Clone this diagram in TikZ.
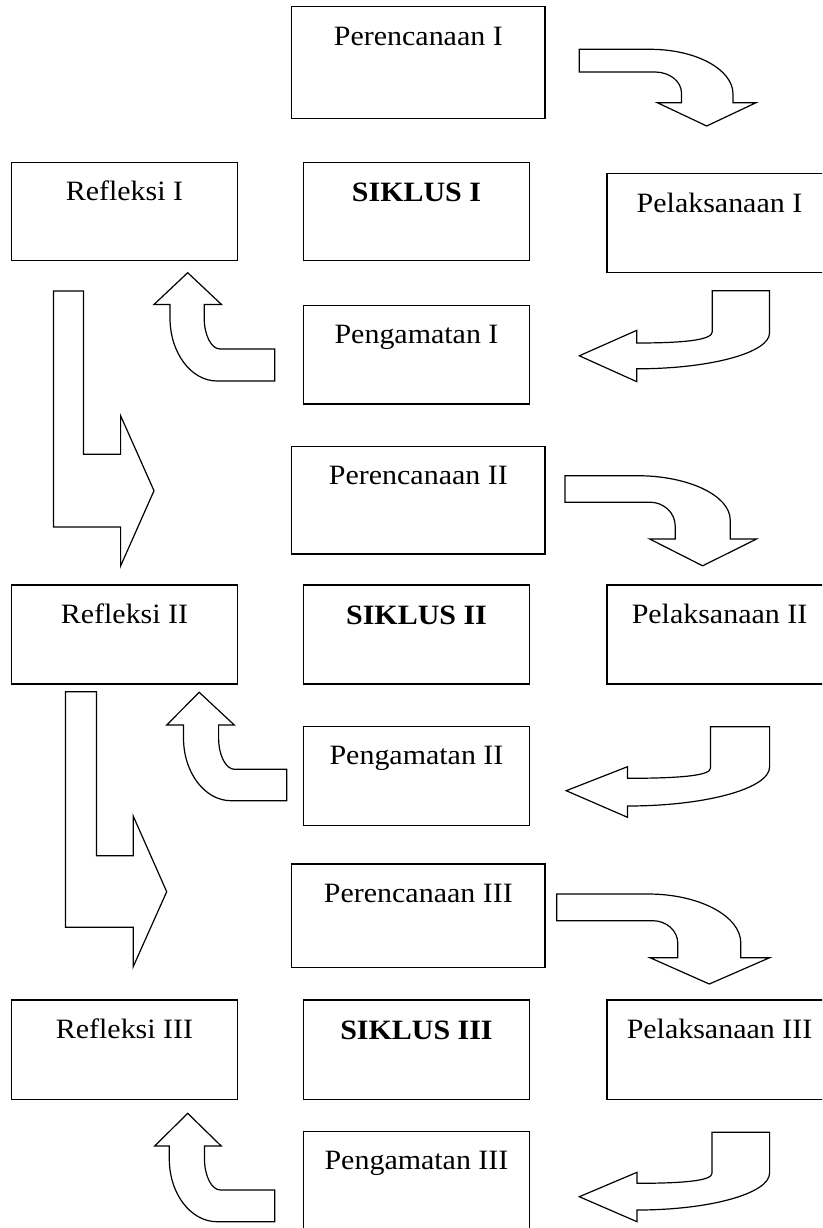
\documentclass[tikz,border=0pt]{standalone}
\usepackage{fontspec}
\setmainfont{Liberation Serif}[FakeStretch=1.07]
\begin{document}
\begin{tikzpicture}[x=1pt,y=-1pt,
  box/.style={draw=black,line width=1.5pt,rectangle,inner sep=0pt,outer sep=0pt,fill=white},
  wbox/.style={box,minimum width=226pt,minimum height=99pt},
  pbox/.style={box,minimum width=253.7pt},
  lbl/.style={anchor=base,inner sep=0pt,font=\fontsize{28}{32}\selectfont},
  blbl/.style={lbl,font=\fontsize{28}{32}\selectfont\bfseries},
  blk/.style={draw=black,line width=1.2pt,line join=miter,fill=white}]
\clip (0,0) rectangle (822,1228);
\fill[white] (0,0) rectangle (822,1228);

% ---------- boxes ----------
\node[pbox,minimum height=111.6pt] (p1) at (418.35,62.5) {};
\node[wbox,minimum height=98.4pt] (r1) at (124.5,211.5) {};
\node[wbox,minimum height=98.4pt] (s1) at (416.5,211.5) {};
\node[wbox,minimum width=225pt] (l1) at (719.5,223.2) {};
\node[wbox,minimum height=98.3pt] (g1) at (416.5,354.85) {};
\node[pbox,minimum height=107.3pt] (p2) at (418.35,500.35) {};
\node[wbox] (r2) at (124.5,634.5) {};
\node[wbox] (s2) at (416.5,634.5) {};
\node[wbox,minimum width=225pt] (l2) at (719.5,634.5) {};
\node[wbox,minimum height=98.6pt] (g2) at (416.5,776) {};
\node[pbox,minimum height=103.3pt] (p3) at (418.35,915.65) {};
\node[wbox,minimum height=99.3pt] (r3) at (124.5,1049.65) {};
\node[wbox,minimum height=99.3pt] (s3) at (416.5,1049.65) {};
\node[wbox,minimum width=225pt,minimum height=99.3pt] (l3) at (719.5,1049.65) {};
\node[wbox] (g3) at (416.5,1181.2) {};

% ---------- labels ----------
\node[lbl] (p1t) at ([yshift=-39pt]p1.north) {Perencanaan I};
\node[lbl] (r1t) at ([yshift=-38pt]r1.north) {Refleksi I};
\node[blbl] (s1t) at ([yshift=-39pt]s1.north) {SIKLUS I};
\node[lbl] (l1t) at ([yshift=-38.5pt]l1.north) {Pelaksanaan I};
\node[lbl] (g1t) at ([yshift=-37.6pt]g1.north) {Pengamatan I};
\node[lbl] (p2t) at ([yshift=-38pt]p2.north) {Perencanaan II};
\node[lbl] (r2t) at ([yshift=-38pt]r2.north) {Refleksi II};
\node[blbl] (s2t) at ([yshift=-39pt]s2.north) {SIKLUS II};
\node[lbl] (l2t) at ([yshift=-38pt]l2.north) {Pelaksanaan II};
\node[lbl] (g2t) at ([yshift=-38pt]g2.north) {Pengamatan II};
\node[lbl] (p3t) at ([yshift=-38pt]p3.north) {Perencanaan III};
\node[lbl] (r3t) at ([yshift=-38pt]r3.north) {Refleksi III};
\node[blbl] (s3t) at ([yshift=-39pt]s3.north) {SIKLUS III};
\node[lbl] (l3t) at ([yshift=-38pt]l3.north) {Pelaksanaan III};
\node[lbl] (g3t) at ([yshift=-38pt]g3.north) {Pengamatan III};

% ---------- block arrows: Perencanaan -> Pelaksanaan ----------
\draw[blk] (579.3,49.3) -- (650,49.3) .. controls +(45.8,0) and +(0,-24.7) .. (733,94)
  -- (733,102.7) -- (756,102.7) -- (706.7,126) -- (657.3,102.7) -- (681.5,102.7) -- (681.5,93)
  .. controls +(0,-11.6) and +(14.6,0) .. (655,72) -- (579.3,72) -- cycle;
\draw[blk] (565,475.7) -- (637,475.7) .. controls +(51.4,0) and +(0,-24.5) .. (730.2,520)
  -- (730.2,539) -- (756.6,539) -- (702.6,565.8) -- (649.7,539) -- (675.2,539) -- (675.2,526)
  .. controls +(0,-13.1) and +(13.9,0) .. (650,502.2) -- (565,502.2) -- cycle;
\draw[blk] (556.7,894) -- (648,894) .. controls +(51.2,0) and +(0,-27) .. (740.8,943)
  -- (740.8,957.7) -- (769.6,957.7) -- (709.3,984) -- (650,957.7) -- (677.8,957.7) -- (677.8,943.3)
  .. controls +(0,-12.5) and +(13.9,0) .. (652.7,920.7) -- (556.7,920.7) -- cycle;

% ---------- block arrows: Pelaksanaan -> Pengamatan ----------
\draw[blk] (712.3,290.8) -- (769.5,290.8) -- (769.5,333) .. controls +(0,19.8) and +(73.3,0) .. (636.8,368.8)
  -- (636.8,381.7) -- (579.3,355.8) -- (636.8,330.3) -- (636.8,343)
  .. controls +(50,0) and +(0,8) .. (712.3,331.7) -- cycle;
\draw[blk] (710.4,726.7) -- (769.6,726.7) -- (769.6,767) .. controls +(0,21.5) and +(78.4,0) .. (627.5,806)
  -- (627.5,817.3) -- (566.2,790.7) -- (627.5,766.7) -- (627.5,778.3)
  .. controls +(55,0) and +(0,7) .. (710.4,768.3) -- cycle;
\draw[blk] (712,1132.3) -- (769.6,1132.3) -- (769.6,1173) .. controls +(0,20.4) and +(73.2,0) .. (637,1210)
  -- (637,1221.7) -- (579.3,1196.7) -- (637,1172.3) -- (637,1183.3)
  .. controls +(50,0) and +(0,7) .. (712,1173.3) -- cycle;

% ---------- block arrows: Pengamatan -> Refleksi ----------
\draw[blk] (187.7,272.7) -- (221.5,304.5) -- (204.2,304.5) -- (204.2,318)
  .. controls +(0,17.1) and +(-8.7,0) .. (220,349) -- (274.8,349) -- (274.8,381) -- (217,381)
  .. controls +(-25.9,0) and +(0,34.8) .. (170,318) -- (170,304.5) -- (154,304.5) -- cycle;
\draw[blk] (199.2,692.3) -- (234.3,725) -- (218.6,725) -- (218.6,738)
  .. controls +(0,17.3) and +(-8.8,0) .. (234.6,769.3) -- (286.8,769.3) -- (286.8,800.7) -- (231,800.7)
  .. controls +(-26.2,0) and +(0,34.6) .. (183.5,738) -- (183.5,725) -- (166.7,725) -- cycle;
\draw[blk] (187.7,1113.3) -- (221.2,1146) -- (204.5,1146) -- (204.5,1159)
  .. controls +(0,17.1) and +(-8.8,0) .. (220.5,1190) -- (274.7,1190) -- (274.7,1221.7) -- (217,1221.7)
  .. controls +(-26.3,0) and +(0,34.6) .. (169.3,1159) -- (169.3,1146) -- (154.7,1146) -- cycle;

% ---------- block arrows: Refleksi -> next Perencanaan ----------
\draw[blk] (53.5,291) -- (83.4,291) -- (83.4,454.3) -- (120.6,454.3) -- (120.6,415.7) -- (154,490.7)
  -- (120.6,566) -- (120.6,527) -- (53.5,527) -- cycle;
\draw[blk] (65.5,691.7) -- (96.5,691.7) -- (96.5,855.7) -- (133.2,855.7) -- (133.2,816) -- (166.7,891.7)
  -- (133.2,966.7) -- (133.2,927.3) -- (65.5,927.3) -- cycle;
\end{tikzpicture}
\end{document}
